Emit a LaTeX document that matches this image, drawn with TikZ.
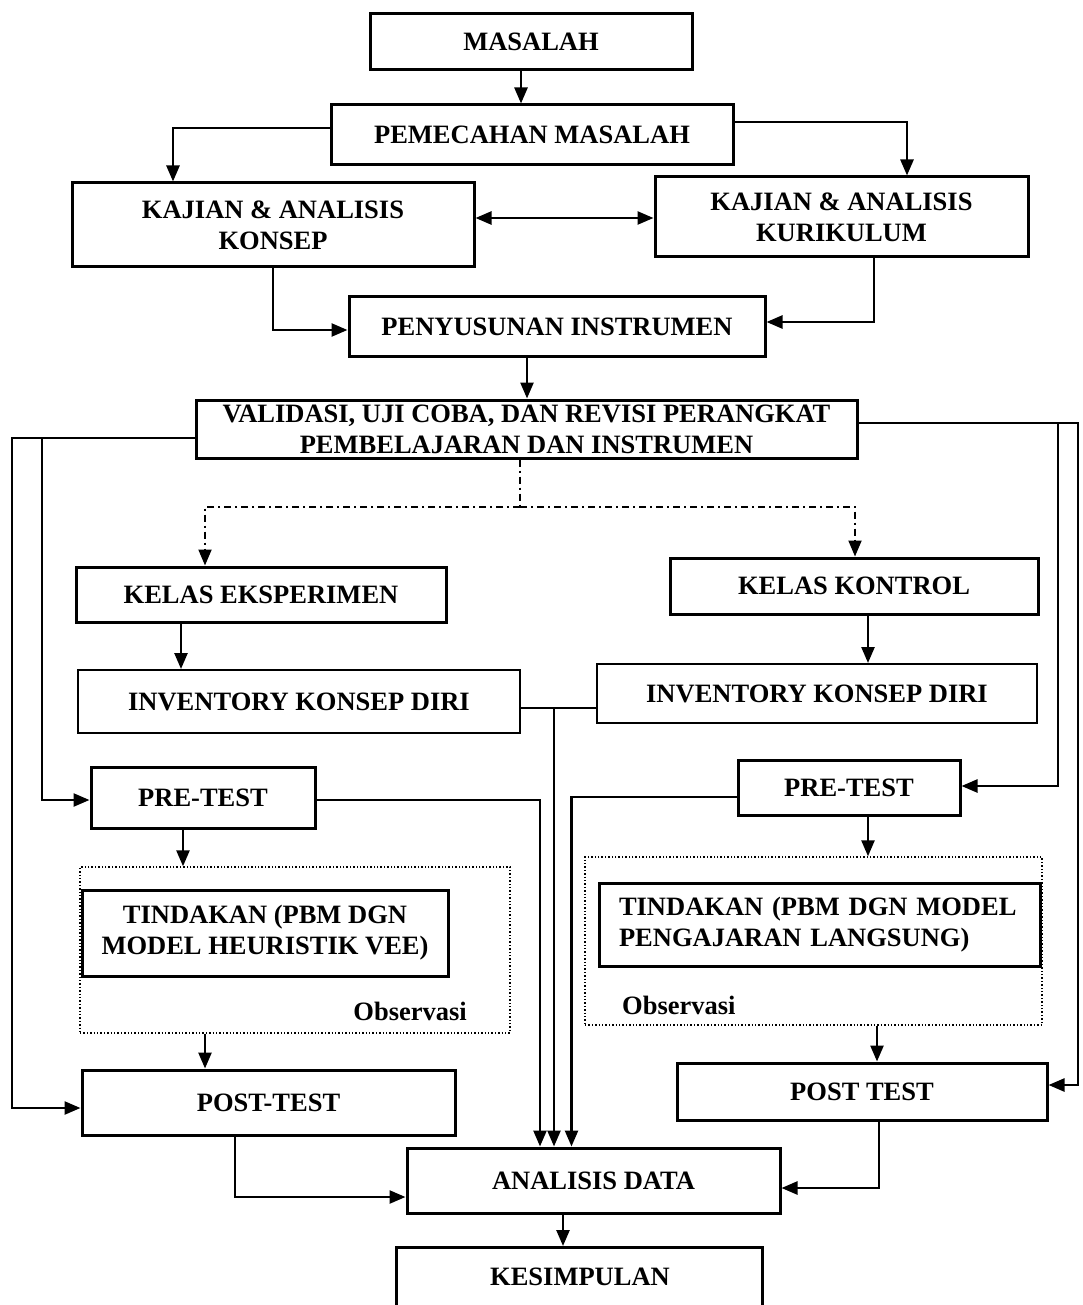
\documentclass[tikz,border=0pt]{standalone}
\usepackage{fontspec}
\setmainfont{Liberation Serif}
\usetikzlibrary{arrows.meta,calc}
\begin{document}
\begin{tikzpicture}[x=1pt,y=-1pt,
 box/.style={draw,line width=3pt,inner sep=0pt,align=center,font=\bfseries\fontsize{26.5}{31}\selectfont},
 tbox/.style={box,line width=2pt},
 obox/.style={draw,dotted,line width=1.4pt,inner sep=0pt},
 lbl/.style={font=\bfseries\fontsize{26.5}{31}\selectfont,inner sep=0pt},
 conn/.style={line width=2.5pt,-{Triangle[length=16pt,width=13pt]}},
 dconn/.style={line width=2.5pt,{Triangle[length=16pt,width=13pt]}-{Triangle[length=16pt,width=13pt]}},
 plain/.style={line width=2.5pt},
 dd/.style={line width=2pt,dash pattern=on 7pt off 4pt on 2pt off 4pt}
]
\useasboundingbox (0,0) rectangle (1082,1305);

% boxes
\node[box,minimum width=322pt,minimum height=56pt] (mas) at (531,42) {MASALAH};
\node[box,minimum width=402pt,minimum height=60pt] (pem) at (532,135) {PEMECAHAN MASALAH};
\node[box,minimum width=402pt,minimum height=84pt] (kon) at (273,225) {KAJIAN \& ANALISIS\\KONSEP};
\node[box,minimum width=373pt,minimum height=80pt] (kur) at (841.5,217) {KAJIAN \& ANALISIS\\KURIKULUM};
\node[box,minimum width=416pt,minimum height=59pt] (pen) at (557,326.5) {PENYUSUNAN INSTRUMEN};
\node[box,minimum width=661pt,minimum height=58pt] (val) at (526.5,429) {VALIDASI, UJI COBA, DAN REVISI PERANGKAT\\PEMBELAJARAN DAN INSTRUMEN};
\node[box,minimum width=370pt,minimum height=55pt] (ke) at (261,594.5) {KELAS EKSPERIMEN};
\node[box,minimum width=368pt,minimum height=56pt] (kk) at (854,586) {KELAS KONTROL};
\node[tbox,minimum width=442pt,minimum height=63pt] (invL) at (299,701.5) {INVENTORY KONSEP DIRI};
\node[tbox,minimum width=440pt,minimum height=59pt] (invR) at (817,693.5) {INVENTORY KONSEP DIRI};
\node[box,minimum width=224pt,minimum height=61pt] (preL) at (203,797.5) {PRE-TEST};
\node[box,minimum width=222pt,minimum height=55pt] (preR) at (849,787.5) {PRE-TEST};
\node[obox,minimum width=430pt,minimum height=166pt] (obL) at (295,950) {};
\node[obox,minimum width=457pt,minimum height=168pt] (obR) at (813.5,941) {};
\node[box,minimum width=366pt,minimum height=86pt] (tinL) at (265,933) {TINDAKAN (PBM DGN\\MODEL HEURISTIK VEE)};
\node[box,minimum width=441pt,minimum height=83pt,text width=401pt,align=left] (tinR) at (819.5,924.5) {TINDAKAN (PBM DGN MODEL\\PENGAJARAN LANGSUNG)};
\node[lbl,anchor=east] (obsL) at (467,1011) {Observasi};
\node[lbl,anchor=west] (obsR) at (622,1005) {Observasi};
\node[box,minimum width=373pt,minimum height=65pt] (postL) at (268.5,1102.5) {POST-TEST};
\node[box,minimum width=370pt,minimum height=57pt] (postR) at (862,1091.5) {POST TEST};
\node[box,minimum width=373pt,minimum height=65pt] (ana) at (593.5,1180.5) {ANALISIS DATA};
\node[box,minimum width=366pt,minimum height=65pt] (kes) at (579,1280) {};
\node[lbl] (kesT) at (580,1277) {KESIMPULAN};

% connectors
\draw[conn] ([xshift=-10pt]mas.south) coordinate (t) -- (t |- pem.north);
\draw[conn] ([yshift=7pt]pem.west) -| ([xshift=-100pt]kon.north);
\draw[conn] ([yshift=13pt]pem.east) -| ([xshift=65.5pt]kur.north);
\draw[dconn] ([yshift=7pt]kon.east) coordinate (t) -- (t -| kur.west);
\draw[conn] (kon.south) |- ([yshift=-3.5pt]pen.west);
\draw[conn] ([xshift=32.5pt]kur.south) |- ([yshift=4.5pt]pen.east);
\draw[conn] ([xshift=-30pt]pen.south) coordinate (t) -- (t |- val.north);

% dash-dot split
\draw[dd] ([xshift=-6.5pt]val.south) -- ++(0,47) coordinate (vm);
\draw[dd,-{Triangle[length=16pt,width=13pt]}] (vm) -| ([xshift=-56pt]ke.north);
\draw[dd,-{Triangle[length=16pt,width=13pt]}] (vm) -| ([xshift=1pt]kk.north);

% side lines
\draw[conn] ([yshift=-9pt]val.west) -- (12,438) -- (12,1108) -- ([yshift=-5.5pt]postL.west);
\draw[conn] ([yshift=-9pt]val.west) -| (42,800) -- ([yshift=-2.5pt]preL.west);
\draw[conn] ([yshift=6pt]val.east) -- (1078,423) -- (1078,1085) -- ([yshift=6.5pt]postR.east);
\draw[conn] ([yshift=6pt]val.east) -| (1058,786) -- ([yshift=1.5pt]preR.east);

\draw[conn] ([xshift=-80pt]ke.south) coordinate (t) -- (t |- invL.north);
\draw[conn] ([xshift=14pt]kk.south) coordinate (t) -- (t |- invR.north);

% to analisis data
\draw[plain] ([yshift=-6.5pt]invL.east) coordinate (t) -- (t -| invR.west);
\coordinate (jn) at (554,708);
\draw[conn] (jn) -- (jn |- ana.north);
\draw[conn] ([yshift=-2.5pt]preL.east) -| ([xshift=-53.5pt]ana.north);
\draw[conn] ([yshift=-9.5pt]preR.west) -| ([xshift=-22pt]ana.north);

\draw[conn] ([xshift=-20pt]preL.south) coordinate (t) -- (t |- obL.north);
\draw[conn] ([xshift=-90pt]obL.south) coordinate (t) -- (t |- postL.north);
\draw[conn] ([xshift=19pt]preR.south) coordinate (t) -- (t |- obR.north);
\draw[conn] ([xshift=63.5pt]obR.south) coordinate (t) -- (t |- postR.north);

\draw[conn] ([xshift=-33.5pt]postL.south) |- ([yshift=-16.5pt]ana.west);
\draw[conn] ([xshift=17pt]postR.south) |- ([yshift=-7.5pt]ana.east);
\draw[conn] ([xshift=-30.5pt]ana.south) coordinate (t) -- (t |- kes.north);
\end{tikzpicture}
\end{document}
